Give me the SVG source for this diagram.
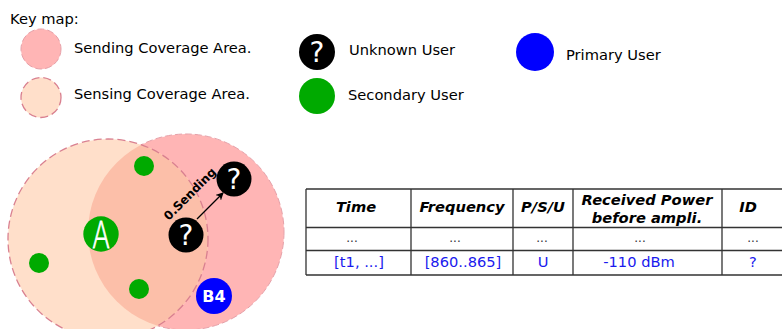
<svg xmlns="http://www.w3.org/2000/svg" width="782" height="329" viewBox="0 0 782 329">
  <defs>
    <style>
      text { font-family: "DejaVu Sans", "Liberation Sans", sans-serif; }
      .lbl { font-size: 14.67px; fill: #000; }
      .hdr { font-size: 14.67px; font-weight: bold; font-style: italic; fill: #000; text-anchor: middle; }
      .dots { font-size: 12px; fill: #333; text-anchor: middle; }
      .val { font-size: 14.67px; fill: #1a1aee; text-anchor: middle; }
      .q { font-size: 28px; fill: #fff; text-anchor: middle; }
      .send { fill: #ffb5b5; stroke: #e6a0a8; stroke-width: 1; stroke-dasharray: 7 3; }
      .sense { fill: #ffdfca; stroke: none; }
      .senseEdge { fill: none; stroke: #d98090; stroke-width: 1.3; stroke-dasharray: 8 4; }
      .unk { fill: #000; }
      .sec { fill: #00aa00; }
      .pri { fill: #0000ff; }
      .grid { stroke: #333; stroke-width: 1.3; fill: none; }
    </style>
    <clipPath id="sendClip"><circle cx="186" cy="232" r="98"/></clipPath>
    <marker id="arr" markerWidth="8" markerHeight="8" refX="7" refY="4" orient="auto" markerUnits="userSpaceOnUse">
      <path d="M0,0 L8,4 L0,8 L2.5,4 Z" fill="#000"/>
    </marker>
  </defs>

  <!-- Legend -->
  <g id="legend">
    <text class="lbl" x="10" y="24">Key map:</text>
    <g id="legend-sending">
      <circle class="send" cx="41" cy="49" r="20"/>
      <text class="lbl" x="74" y="53">Sending Coverage Area.</text>
    </g>
    <g id="legend-sensing">
      <circle class="sense" cx="41" cy="97.5" r="20"/>
      <circle class="senseEdge" cx="41" cy="97.5" r="20" stroke-dasharray="6 3"/>
      <text class="lbl" x="74" y="99">Sensing Coverage Area.</text>
    </g>
    <g id="legend-unknown">
      <circle class="unk" cx="317" cy="52" r="18"/>
      <text class="q" x="317" y="62">?</text>
      <text class="lbl" x="349" y="55">Unknown User</text>
    </g>
    <g id="legend-secondary">
      <circle class="sec" cx="317" cy="96" r="18"/>
      <text class="lbl" x="348" y="100">Secondary User</text>
    </g>
    <g id="legend-primary">
      <circle class="pri" cx="535" cy="52" r="19"/>
      <text class="lbl" x="566" y="60">Primary User</text>
    </g>
  </g>

  <!-- Coverage areas -->
  <g id="sending-area">
    <circle class="send" cx="186" cy="232" r="98"/>
  </g>
  <g id="sensing-area">
    <circle class="sense" cx="108" cy="239" r="100"/>
    <circle cx="108" cy="239" r="100" fill="#fcbfa9" clip-path="url(#sendClip)"/>
    <circle class="senseEdge" cx="108" cy="239" r="100"/>
  </g>

  <!-- Connectors -->
  <g id="connectors">
    <line x1="197" y1="219" x2="223" y2="193" stroke="#000" stroke-width="1.2" marker-end="url(#arr)"/>
    <text x="190" y="198" transform="rotate(-45 190 194)" text-anchor="middle" font-size="12" font-weight="bold" fill="#000">0.Sending</text>
  </g>

  <!-- Nodes -->
  <g id="sec1"><circle class="sec" cx="144" cy="166" r="10"/></g>
  <g id="sec2"><circle class="sec" cx="39" cy="263" r="10"/></g>
  <g id="sec3"><circle class="sec" cx="139" cy="289" r="10"/></g>
  <g id="nodeA">
    <circle class="sec" cx="101" cy="234" r="17.7"/>
    <text x="0" y="0" transform="translate(101 247.5) scale(0.7 1)" text-anchor="middle" font-size="37" font-weight="200" fill="#fff" stroke="#fff" stroke-width="0.8">A</text>
  </g>
  <g id="unk1">
    <circle class="unk" cx="186" cy="235" r="17.5"/>
    <text class="q" x="186" y="245">?</text>
  </g>
  <g id="unk2">
    <circle class="unk" cx="234" cy="179" r="17.5"/>
    <text class="q" x="234" y="189">?</text>
  </g>
  <g id="nodeB4">
    <circle class="pri" cx="214" cy="296" r="18"/>
    <text x="214" y="302" text-anchor="middle" font-size="16" font-weight="bold" fill="#fff">B4</text>
  </g>

  <!-- Table -->
  <g id="table">
    <path class="grid" d="M306,189 H782 M306,227.5 H782 M306,250.5 H782 M306,275 H782 M306,189 V275 M411,189 V275 M513,189 V275 M573,189 V275 M722,189 V275"/>
    <text class="hdr" x="356" y="212">Time</text>
    <text class="hdr" x="462" y="212">Frequency</text>
    <text class="hdr" x="543" y="212">P/S/U</text>
    <text class="hdr" x="647" y="205">Received Power</text>
    <text class="hdr" x="647" y="223">before ampli.</text>
    <text class="hdr" x="748" y="212">ID</text>
    <text class="dots" x="352" y="242">...</text>
    <text class="dots" x="455" y="242">...</text>
    <text class="dots" x="542" y="242">...</text>
    <text class="dots" x="640" y="242">...</text>
    <text class="dots" x="753" y="242">...</text>
    <text class="val" x="359" y="267">[t1, ...]</text>
    <text class="val" x="463" y="267">[860..865]</text>
    <text class="val" x="543" y="267">U</text>
    <text class="val" x="639" y="267">-110 dBm</text>
    <text class="val" x="753" y="267">?</text>
  </g>
</svg>
